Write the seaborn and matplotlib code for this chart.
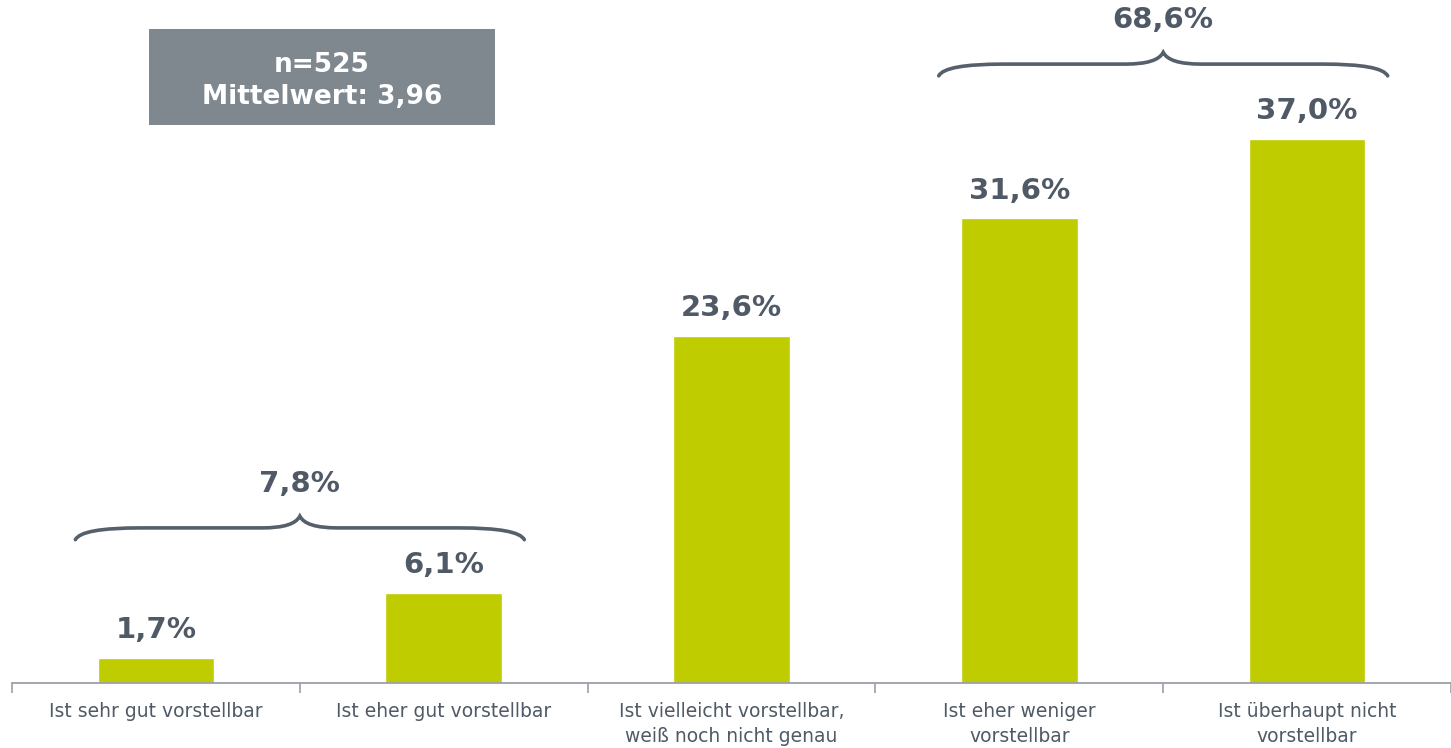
import numpy as np
import pandas as pd
import matplotlib.pyplot as plt
import seaborn as sns
from matplotlib.path import Path
from matplotlib.patches import PathPatch, Rectangle

categories = [
    "Ist sehr gut vorstellbar",
    "Ist eher gut vorstellbar",
    "Ist vielleicht vorstellbar,\nweiß noch nicht genau",
    "Ist eher weniger\nvorstellbar",
    "Ist überhaupt nicht\nvorstellbar",
]
values = [1.7, 6.1, 23.6, 31.6, 37.0]
group_members = [[0, 1], [3, 4]]
group_totals = [7.8, 68.6]
n_text = "n=525"
mean_text = "Mittelwert: 3,96"

bar_color = "#bfcc00"
text_color = "#4f5a66"
brace_color = "#56606b"
box_color = "#7f878f"
brace_offsets = [4.45, 5.1]

df = pd.DataFrame({"cat": categories, "val": values})

sns.set_style("white")
plt.rcParams["font.family"] = ["DejaVu Sans"]

fig = plt.figure(figsize=(14.51, 7.48), dpi=100)
ax = fig.add_axes([0.0083, 0.0869, 0.9917, 0.9131])

sns.barplot(data=df, x="cat", y="val", color=bar_color, saturation=1, width=0.405, ax=ax)

ax.set_xlim(-0.5, 4.5)
ax.set_ylim(0, 46.46)
ax.set_xlabel("")
ax.set_ylabel("")
ax.set_yticks([])
for s in ["top", "right", "left"]:
    ax.spines[s].set_visible(False)
ax.spines["bottom"].set_color("#9aa0a6")
ax.spines["bottom"].set_linewidth(1.3)

ax.set_xticks(range(len(categories)))
ax.set_xticklabels(categories, fontsize=13.5, color=text_color, linespacing=1.35)
ax.set_xticks(np.arange(-0.5, len(categories), 1.0), minor=True)
ax.tick_params(axis="x", which="major", length=0, pad=14)
ax.tick_params(axis="x", which="minor", bottom=True, length=7, width=1.2,
               color="#9aa0a6", direction="out")

labels = [f"{v:.1f}%".replace(".", ",") for v in values]
ax.bar_label(ax.containers[0], labels=labels, padding=10, fontsize=21,
             fontweight="bold", color=text_color)


def brace(ax, x0, x1, y, h, end_w=0.225, tip_w=0.13):
    xc = (x0 + x1) / 2
    verts = [
        (x0, y - h), (x0 + 0.02, y), (x0 + end_w, y),
        (xc - tip_w, y),
        (xc - 0.02, y), (xc, y + h),
        (xc + 0.02, y), (xc + tip_w, y),
        (x1 - end_w, y),
        (x1 - 0.02, y), (x1, y - h),
    ]
    codes = [Path.MOVETO, Path.CURVE3, Path.CURVE3, Path.LINETO,
             Path.CURVE3, Path.CURVE3, Path.CURVE3, Path.CURVE3,
             Path.LINETO, Path.CURVE3, Path.CURVE3]
    ax.add_patch(PathPatch(Path(verts, codes), fill=False, lw=2.6,
                           edgecolor=brace_color, capstyle="round", clip_on=False))


for members, total, off in zip(group_members, group_totals, brace_offsets):
    top = max(values[i] for i in members)
    x0 = min(members) - 0.28
    x1 = max(members) + 0.28
    y = top + off
    brace(ax, x0, x1, y, 0.8)
    ax.text((x0 + x1) / 2, y + 3.0, f"{total:.1f}%".replace(".", ","),
            ha="center", va="center", fontsize=21, fontweight="bold", color=text_color)

ax.add_patch(Rectangle((-0.025, 37.96), 1.203, 6.53, facecolor=box_color,
                       edgecolor="none", clip_on=False))
ax.text(0.577, 40.95, n_text + "\n" + mean_text, ha="center", va="center",
        fontsize=19, fontweight="bold", color="white", linespacing=1.3)

fig.savefig("out.png", dpi=100)
